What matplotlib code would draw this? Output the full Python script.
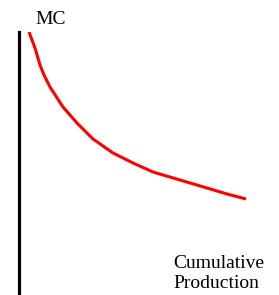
import matplotlib.pyplot as plt

# Marginal cost curve (arbitrary units)
production = [10, 16, 21, 25, 31, 44, 58, 74, 94, 114, 134, 161, 188, 208, 227]
marginal_cost = [263, 247, 230, 220, 208, 188, 172, 156, 142, 132, 123, 115, 107, 101, 96]

y_label = "MC"
x_label = "Cumulative\nProduction"

plt.rcParams['font.family'] = ['Liberation Serif', 'DejaVu Serif']

W, H = 279, 295
fig = plt.figure(figsize=(W / 100, H / 100), dpi=100)
ax = fig.add_axes([19 / W, 0, (W - 19) / W, (H - 32) / H])
ax.set_xlim(0, W - 19)
ax.set_ylim(0, H - 32)

ax.plot(production, marginal_cost, color="#ff0000", linewidth=2.2,
        solid_capstyle="butt", solid_joinstyle="round")

for s in ["top", "right", "bottom"]:
    ax.spines[s].set_visible(False)
ax.spines["left"].set_linewidth(2.3)
ax.spines["left"].set_color("black")
ax.set_xticks([])
ax.set_yticks([])
ax.patch.set_alpha(0)

fig.text(35 / W, 1 - 24 / H, y_label, fontsize=14, va="baseline", ha="left")
fig.text(173 / W, 1 - 288 / H, x_label, fontsize=14, va="baseline", ha="left",
         linespacing=1.22)

fig.savefig("out.png", dpi=100)
